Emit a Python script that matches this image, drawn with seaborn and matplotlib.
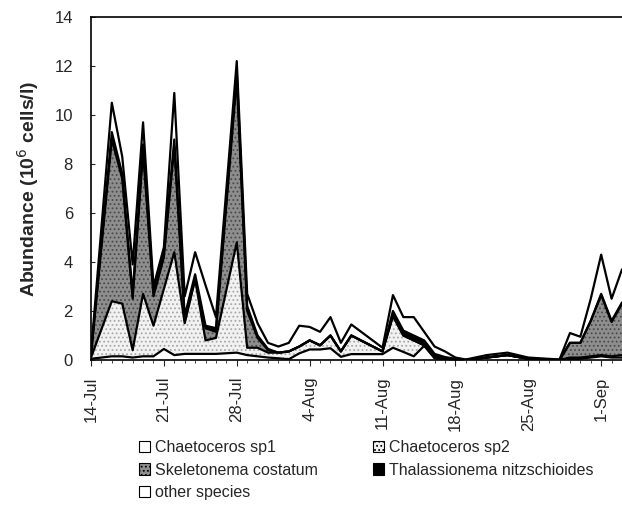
import numpy as np
import pandas as pd
import matplotlib
matplotlib.use("Agg")
import matplotlib.pyplot as plt
import matplotlib.dates as mdates
from matplotlib.patches import Patch
import seaborn as sns

# Sampling dates
dates = ["14-Jul", "16-Jul", "17-Jul", "18-Jul", "19-Jul", "20-Jul", "21-Jul",
         "22-Jul", "23-Jul", "24-Jul", "25-Jul", "26-Jul", "28-Jul", "29-Jul",
         "30-Jul", "31-Jul", "1-Aug", "2-Aug", "3-Aug", "4-Aug", "5-Aug",
         "6-Aug", "7-Aug", "8-Aug", "11-Aug", "12-Aug", "13-Aug", "14-Aug",
         "15-Aug", "16-Aug", "17-Aug", "18-Aug", "19-Aug", "21-Aug", "23-Aug",
         "25-Aug", "28-Aug", "29-Aug", "30-Aug", "31-Aug", "1-Sep", "2-Sep",
         "3-Sep"]

# Abundance per species (10^6 cells/l)
chaetoceros_sp1 = [0.05, 0.15, 0.15, 0.10, 0.15, 0.15, 0.45, 0.20, 0.25, 0.25,
                   0.25, 0.25, 0.30, 0.20, 0.15, 0.10, 0.07, 0.03, 0.27, 0.43,
                   0.43, 0.48, 0.13, 0.24, 0.24, 0.50, 0.33, 0.15, 0.58, 0.07,
                   0.00, 0.00, 0.00, 0.10, 0.20, 0.05, 0.00, 0.05, 0.05, 0.10,
                   0.15, 0.10, 0.10]
chaetoceros_sp2 = [0.05, 2.25, 2.15, 0.30, 2.55, 1.25, 2.45, 4.20, 1.25, 3.05,
                   0.55, 0.65, 4.50, 0.30, 0.35, 0.20, 0.23, 0.32, 0.28, 0.37,
                   0.17, 0.52, 0.22, 0.76, 0.11, 1.30, 0.67, 0.65, 0.02, 0.03,
                   0.02, 0.00, 0.00, 0.00, 0.00, 0.00, 0.00, 0.05, 0.05, 0.05,
                   0.05, 0.05, 0.10]
skeletonema_costatum = [0.10, 6.60, 5.10, 2.10, 5.80, 1.20, 1.30, 4.30, 0.10,
                        0.00, 0.50, 0.25, 6.70, 1.50, 0.40, 0.10, 0.00, 0.00,
                        0.00, 0.00, 0.00, 0.00, 0.00, 0.00, 0.00, 0.00, 0.00,
                        0.00, 0.00, 0.00, 0.00, 0.00, 0.00, 0.00, 0.00, 0.00,
                        0.00, 0.60, 0.60, 1.45, 2.45, 1.40, 2.10]
thalassionema_nitzschioides = [0.00, 0.30, 0.20, 0.20, 0.30, 0.20, 0.20, 0.30,
                               0.20, 0.20, 0.10, 0.15, 0.30, 0.20, 0.10, 0.05,
                               0.00, 0.00, 0.00, 0.00, 0.00, 0.00, 0.00, 0.00,
                               0.00, 0.20, 0.20, 0.20, 0.20, 0.15, 0.10, 0.05,
                               0.00, 0.00, 0.00, 0.00, 0.00, 0.00, 0.00, 0.00,
                               0.05, 0.05, 0.05]
other_species = [0.10, 1.20, 0.70, 1.20, 0.90, 0.20, 0.20, 1.90, 0.80, 0.90,
                 1.65, 0.45, 0.40, 0.50, 0.50, 0.25, 0.25, 0.35, 0.85, 0.55,
                 0.55, 0.75, 0.35, 0.45, 0.15, 0.65, 0.55, 0.75, 0.35, 0.30,
                 0.23, 0.05, 0.02, 0.10, 0.10, 0.05, 0.02, 0.40, 0.25, 0.90,
                 1.60, 0.90, 1.35]

species = ["Chaetoceros sp1", "Chaetoceros sp2", "Skeletonema costatum",
           "Thalassionema nitzschioides", "other species"]
y_ticks = [0, 2, 4, 6, 8, 10, 12, 14]
x_ticks = ["14-Jul", "21-Jul", "28-Jul", "4-Aug", "11-Aug", "18-Aug",
           "25-Aug", "1-Sep"]

YEAR = 2003
def to_date(s):
    return pd.to_datetime(f"{s}-{YEAR}", format="%d-%b-%Y")

x = [to_date(d) for d in dates]
series = [chaetoceros_sp1, chaetoceros_sp2, skeletonema_costatum,
          thalassionema_nitzschioides, other_species]
stack = np.cumsum(np.array(series), axis=0)

sns.set_style("white")
plt.rcParams["font.family"] = ["Liberation Sans", "DejaVu Sans"]
plt.rcParams["hatch.linewidth"] = 0.8

fig = plt.figure(figsize=(6.22, 5.27), dpi=100)
ax = fig.add_axes([91 / 622, 1 - 360 / 527, 531 / 622, 343 / 527])

faces = ["white", "#f2f2f2", "#8e8e8e", "black", "white"]
hatch_colors = ["white", "#a8a8a8", "#4a4a4a", "black", "white"]
hatches = [None, "....", "....", None, None]

polys = ax.stackplot(x, *series, colors=faces, linewidth=0)
for poly, hc, h in zip(polys, hatch_colors, hatches):
    poly.set_edgecolor(hc)
    poly.set_linewidth(0)
    if h:
        poly.set_hatch(h)

# black outlines along the top of every layer
long = pd.DataFrame({
    "date": np.tile(x, len(species)),
    "value": stack.ravel(),
    "layer": np.repeat(species, len(x)),
})
sns.lineplot(data=long, x="date", y="value", units="layer", estimator=None,
             color="black", linewidth=1.6, ax=ax, legend=False)

ax.set_xlim(to_date("14-Jul"), to_date("3-Sep"))
ax.set_ylim(0, 14)
ax.set_yticks(y_ticks)
ax.set_xticks([to_date(t) for t in x_ticks])
ax.set_xticklabels(x_ticks, rotation=90, fontsize=12)
ax.xaxis.set_minor_locator(mdates.DayLocator())
ax.tick_params(axis="y", direction="in", length=3, pad=13, labelsize=12,
               left=True)
ax.tick_params(axis="x", which="major", direction="out", length=4, pad=8,
               bottom=True)
ax.tick_params(axis="x", which="minor", direction="out", length=2,
               bottom=True)
ax.set_xlabel("")
ax.set_ylabel("Abundance (10$^6$ cells/l)", fontsize=14, fontweight="bold")
ax.yaxis.set_label_coords(-0.095, 0.5)

for side in ["left", "bottom", "top"]:
    ax.spines[side].set_visible(True)
    ax.spines[side].set_color("black")
    ax.spines[side].set_linewidth(1.2)
ax.spines["right"].set_visible(False)

handles = []
for name, f, hc, h in zip(species, faces, hatch_colors, hatches):
    handles.append(Patch(facecolor=f, edgecolor="black", hatch=h,
                         linewidth=0.8, label=name))
order = [0, 2, 4, 1, 3]
fig.legend([handles[i] for i in order], [species[i] for i in order],
           loc="upper left", bbox_to_anchor=(139 / 622, 1 - 440 / 527),
           ncol=2, frameon=False, fontsize=11.5, handlelength=0.7,
           handleheight=0.7, handletextpad=0.3, labelspacing=0.48,
           columnspacing=3.45, borderaxespad=0, borderpad=0)

fig.savefig("out.png", dpi=100)
